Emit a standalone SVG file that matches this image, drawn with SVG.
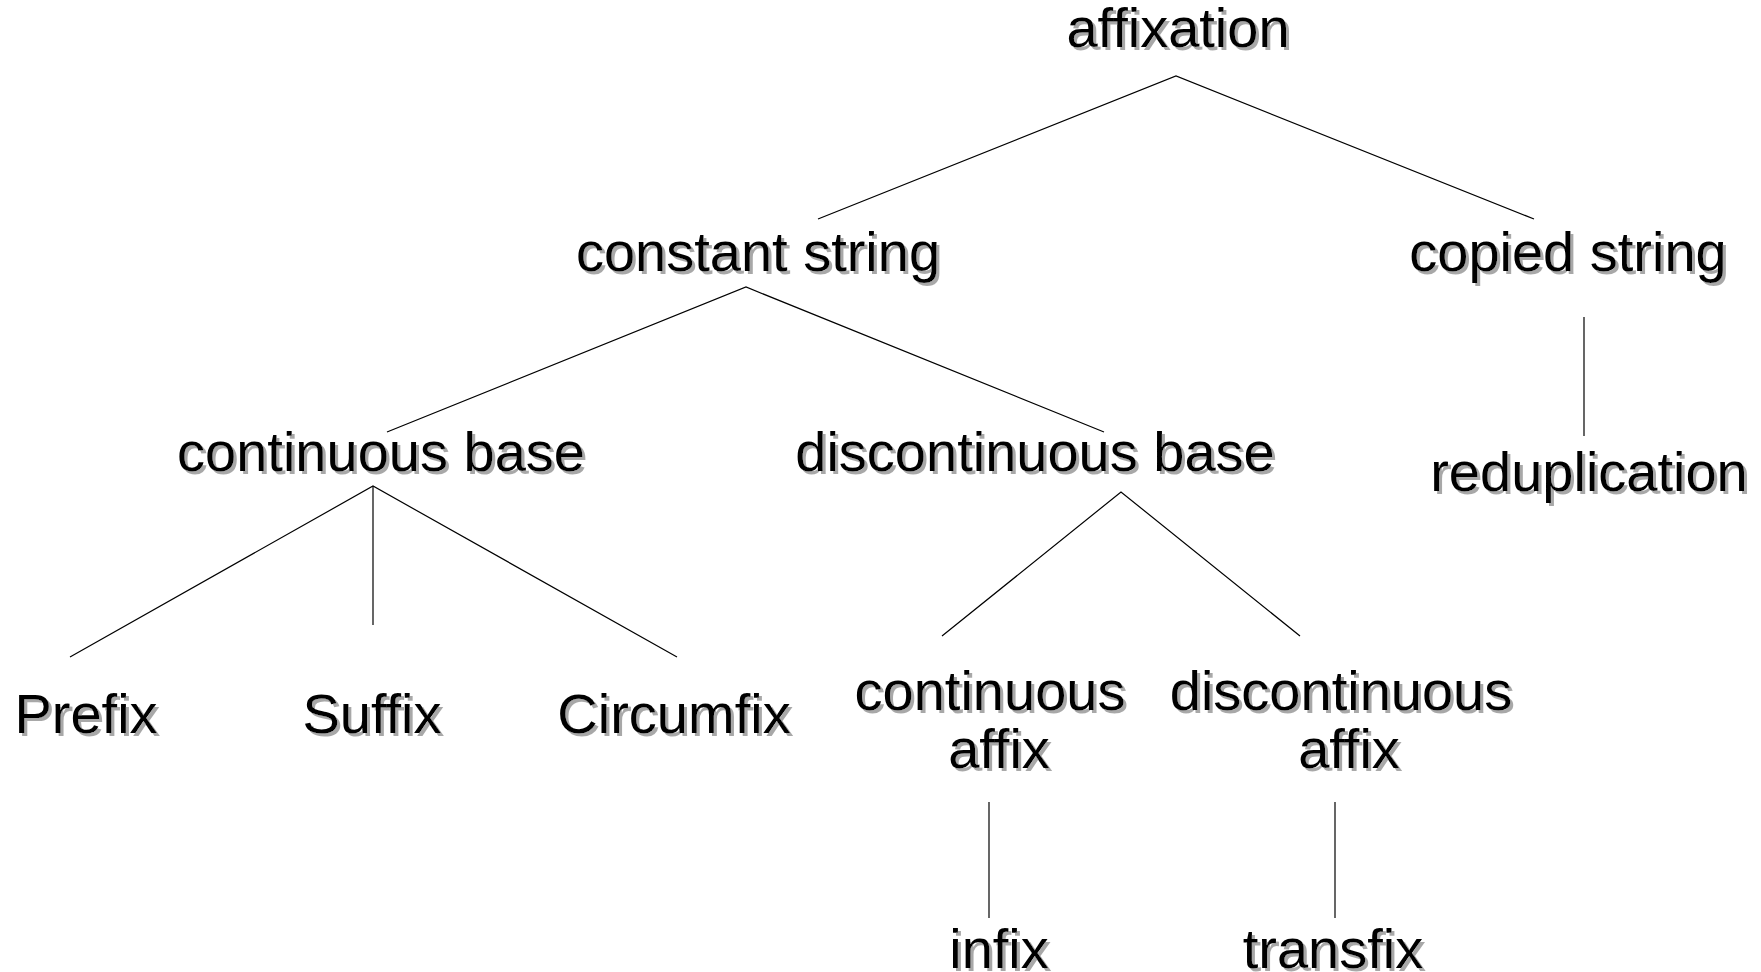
<svg xmlns="http://www.w3.org/2000/svg" width="1761" height="972" viewBox="0 0 1761 972">
  <defs>
    <!-- soft grey drop shadow under every label -->
    <filter id="shadow" x="-5%" y="-20%" width="115%" height="150%">
      <feFlood flood-color="#a8a8a8" result="grey"/>
      <feComposite in="grey" in2="SourceAlpha" operator="in" result="shape"/>
      <feOffset in="shape" dx="3" dy="3" result="offset"/>
      <feGaussianBlur in="offset" stdDeviation="0.6" result="soft"/>
      <feMerge>
        <feMergeNode in="soft"/>
        <feMergeNode in="SourceGraphic"/>
      </feMerge>
    </filter>
    <style>
      text { font-family: "Liberation Sans", Arial, sans-serif; font-size: 56px; fill: #000; text-anchor: middle; filter: url(#shadow); }
      .edge { stroke: #000; stroke-width: 1.2; fill: none; }
    </style>
  </defs>
  <rect width="1761" height="972" fill="#fff"/>

  <g id="connectors">
    <polyline class="edge" points="818,219 1176,76 1534,219"/>
    <polyline class="edge" points="387,432 746,287 1104,432"/>
    <line class="edge" x1="1584" y1="317" x2="1584" y2="436"/>
    <polyline class="edge" points="70,657 373,486 677,657"/>
    <line class="edge" x1="373" y1="486" x2="373" y2="625"/>
    <polyline class="edge" points="942,636 1121,492 1300,636"/>
    <line class="edge" x1="989" y1="802" x2="989" y2="918"/>
    <line class="edge" x1="1335" y1="802" x2="1335" y2="918"/>
  </g>

  <g id="affixation"><text x="1178" y="47">affixation</text></g>
  <g id="constant-string"><text x="758" y="271">constant string</text></g>
  <g id="copied-string"><text x="1568" y="271">copied string</text></g>
  <g id="continuous-base"><text x="381" y="471">continuous base</text></g>
  <g id="discontinuous-base"><text x="1035" y="471">discontinuous base</text></g>
  <g id="reduplication"><text x="1589" y="491">reduplication</text></g>
  <g id="prefix"><text x="86" y="733">Prefix</text></g>
  <g id="suffix"><text x="372" y="733">Suffix</text></g>
  <g id="circumfix"><text x="674" y="733">Circumfix</text></g>
  <g id="continuous-affix">
    <text x="990" y="710">continuous</text>
    <text x="999" y="768">affix</text>
  </g>
  <g id="discontinuous-affix">
    <text x="1341" y="710">discontinuous</text>
    <text x="1349" y="768">affix</text>
  </g>
  <g id="infix"><text x="999" y="968">infix</text></g>
  <g id="transfix"><text x="1333" y="968">transfix</text></g>
</svg>
